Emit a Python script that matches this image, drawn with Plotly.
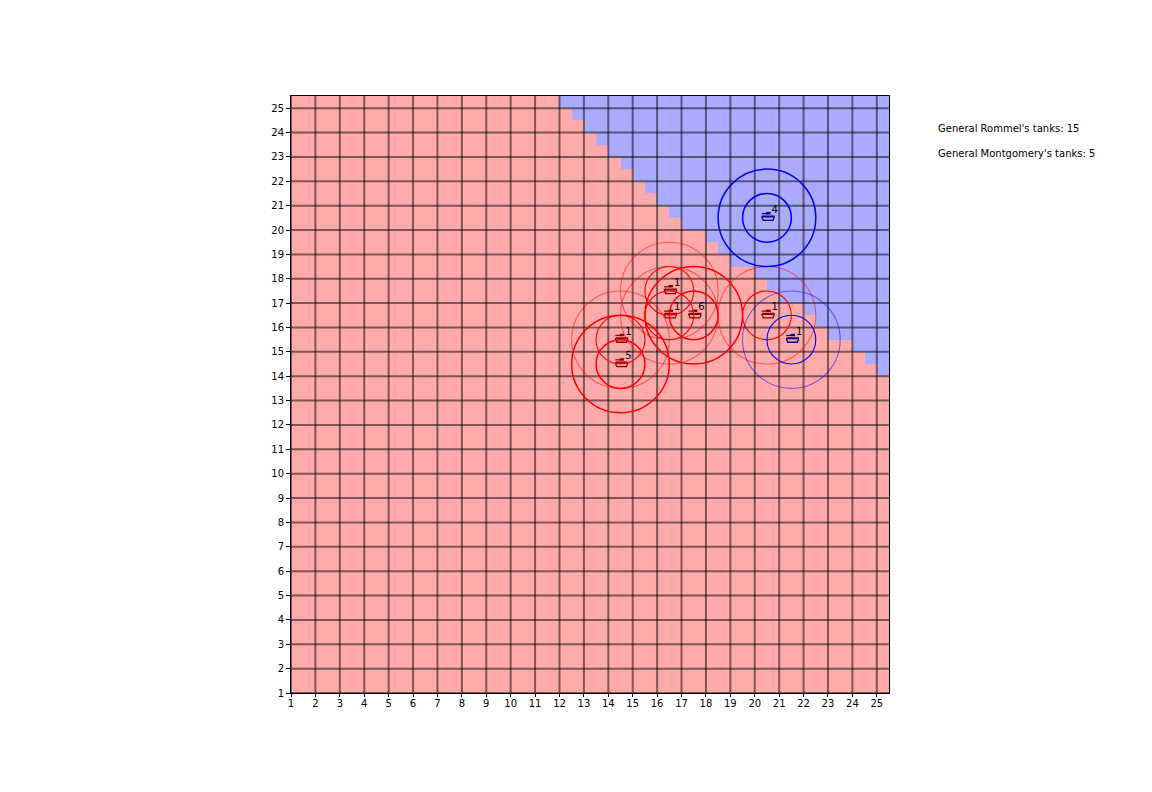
import plotly.graph_objects as go

# --- data ---
ticks = list(range(1, 26))
x_max = 25.5
# Row top edges (descending) and the x where blue starts in that half-unit row
blue_row_tops = [25.5, 25, 24.5, 24, 23.5, 23, 22.5, 22, 21.5, 21, 20.5, 20, 19.5, 19,
                 18.5, 18, 17.5, 17, 16.5, 16, 15.5, 15, 14.5]
blue_row_start = [12, 12.5, 13, 13.5, 14, 14.5, 15, 15.5, 16, 16.5, 17, 18, 18.5, 19,
                  20, 20.5, 21, 22, 22.5, 23, 24, 24.5, 25]

red_x = [14.5, 14.5, 16.5, 16.5, 17.5, 20.5]
red_y = [14.5, 15.5, 16.5, 17.5, 16.5, 16.5]
red_n = [5, 1, 1, 1, 6, 1]
blue_x = [20.5, 21.5]
blue_y = [20.5, 15.5]
blue_n = [4, 1]
info_lines = ["General Rommel's tanks: 15", "General Montgomery's tanks: 5"]
info_y = [23.88, 22.88]
info_x = 27.46

# tank glyph, offsets from the tank position in data units
U = 1 / 24.4
gun = [(-5.2, 4.2), (-0.5, 4.2)]
turret = [(-0.8, 5.2), (3.0, 5.2), (3.0, 4.0), (-0.8, 4.0)]
hull = [(-4.8, 1.8), (7.0, 1.8), (7.2, 0.4), (6.0, -2.6), (-3.6, -2.6), (-5.0, 0.4), (-4.8, 1.8)]
belly = [(-4.4, 1.0), (6.6, 1.0)]

FONT = dict(family="DejaVu Sans", size=10, color="black")

edges = [1 + i * 0.5 for i in range(int((x_max - 1) * 2) + 1)]
z = []
lookup = dict(zip(blue_row_tops, blue_row_start))
for j in range(len(edges) - 1):
    top = edges[j + 1]
    start = lookup.get(top)
    z.append([1 if start is not None and edges[i] >= start else 0 for i in range(len(edges) - 1)])

fig = go.Figure()
fig.add_trace(go.Heatmap(x=edges, y=edges, z=z, zmin=0, zmax=1, showscale=False, hoverinfo="skip",
                         colorscale=[[0, "#ffaaaa"], [1, "#aaaaff"]]))

# grid above the cells
gx, gy = [], []
for t in ticks:
    gx += [t, t, None, 1, x_max, None]
    gy += [1, x_max, None, t, t, None]
fig.add_trace(go.Scatter(x=gx, y=gy, mode="lines", hoverinfo="skip", showlegend=False,
                         line=dict(color="rgba(0,0,0,0.5)", width=2)))


def circles(xs, ys, ns, rgb):
    for x, y, n in zip(xs, ys, ns):
        for r, faint in ((2, 0.5), (1, 1.0)):
            alpha = 1.0 if n > 1 else faint
            fig.add_shape(type="circle", xref="x", yref="y", x0=x - r, x1=x + r, y0=y - r, y1=y + r,
                          line=dict(color=f"rgba({rgb},{alpha})", width=1.5 if n > 1 else 1.1))


def tanks(xs, ys, ns, color):
    lx, ly = [], []
    for x, y in zip(xs, ys):
        for part in (gun, turret, hull, belly):
            lx += [x + dx * U for dx, _ in part] + [None]
            ly += [y + dy * U for _, dy in part] + [None]
    fig.add_trace(go.Scatter(x=lx, y=ly, mode="lines", hoverinfo="skip", showlegend=False,
                             line=dict(color=color, width=1.3)))
    fig.add_trace(go.Scatter(x=[x + 0.19 for x in xs], y=[y + 0.1 for y in ys], text=[str(n) for n in ns],
                             mode="text", textposition="top right", hoverinfo="skip", showlegend=False,
                             textfont=FONT))


circles(red_x, red_y, red_n, "255,0,0")
circles(blue_x, blue_y, blue_n, "0,0,255")
tanks(red_x, red_y, red_n, "#8b0000")
tanks(blue_x, blue_y, blue_n, "#00008b")

for line, y in zip(info_lines, info_y):
    fig.add_annotation(x=(info_x - 1) / (x_max - 1), y=(y - 1) / (x_max - 1), text=line,
                       xref="paper", yref="paper", showarrow=False,
                       xanchor="left", yanchor="bottom", font=FONT, borderpad=0)

axis = dict(tickmode="array", tickvals=ticks, ticktext=[str(t) for t in ticks], range=[1, x_max],
            showgrid=False, zeroline=False, ticks="outside", tickwidth=1, tickcolor="black",
            showline=True, linecolor="black", linewidth=1, mirror=True, tickfont=FONT)
fig.update_xaxes(ticklen=3, ticklabelstandoff=-2, **axis)
fig.update_yaxes(ticklen=4, **axis)
fig.update_layout(width=1152, height=792, paper_bgcolor="white", plot_bgcolor="white", showlegend=False,
                  margin=dict(l=283.4, r=270.6, t=87.5, b=106.5), font=FONT)
fig.write_html("out.html")
